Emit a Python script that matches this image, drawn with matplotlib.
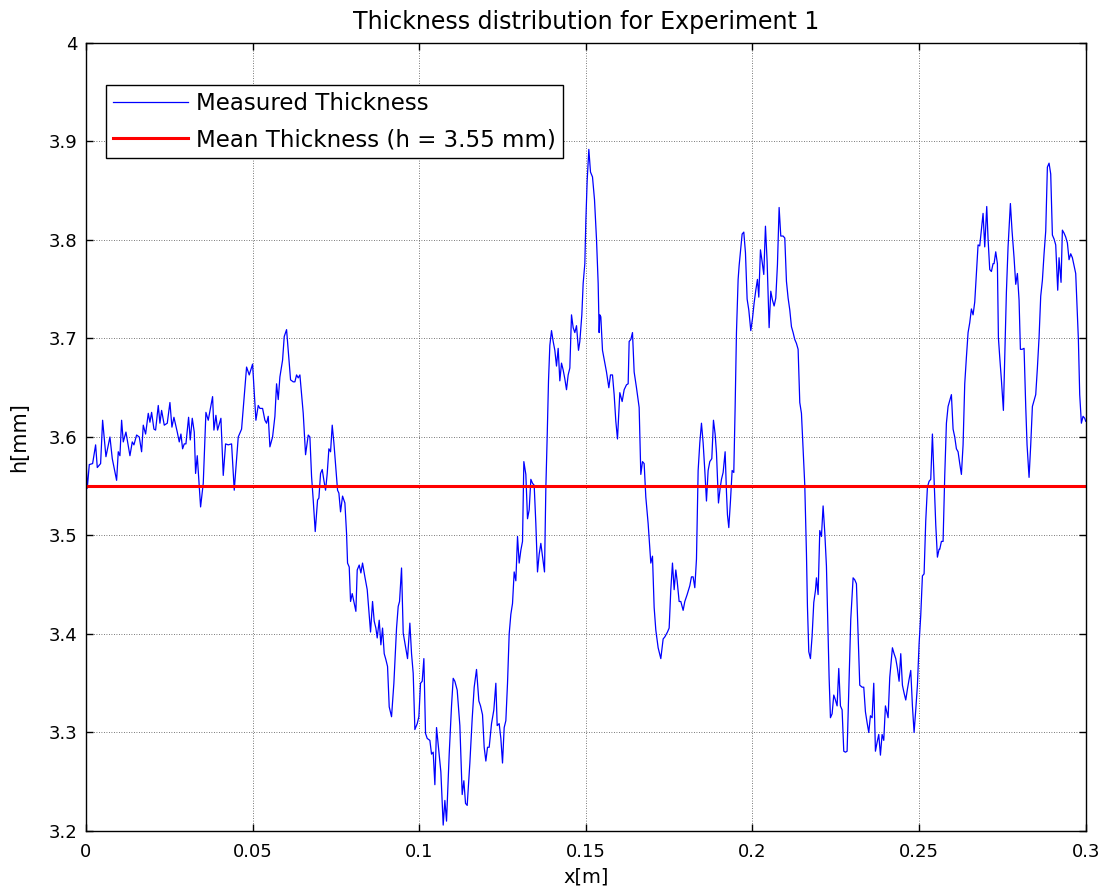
import matplotlib
matplotlib.use("Agg")
import matplotlib.pyplot as plt

# Measured thickness profile
x_m = [
    0.0000, 0.0004, 0.0010, 0.0020, 0.0029, 0.0034, 0.0044, 0.0050, 0.0060, 0.0072,
    0.0079, 0.0092, 0.0097, 0.0102, 0.0107, 0.0112, 0.0120, 0.0132, 0.0139, 0.0144,
    0.0152, 0.0160, 0.0167, 0.0172, 0.0179, 0.0187, 0.0192, 0.0197, 0.0204, 0.0209,
    0.0217, 0.0222, 0.0227, 0.0235, 0.0244, 0.0252, 0.0258, 0.0264, 0.0274, 0.0280,
    0.0285, 0.0290, 0.0295, 0.0300, 0.0308, 0.0313, 0.0319, 0.0325, 0.0329, 0.0334,
    0.0344, 0.0352, 0.0360, 0.0367, 0.0374, 0.0380, 0.0384, 0.0390, 0.0395, 0.0405,
    0.0412, 0.0419, 0.0427, 0.0437, 0.0445, 0.0457, 0.0467, 0.0482, 0.0490, 0.0500,
    0.0510, 0.0517,
    0.0522, 0.0530, 0.0537, 0.0542, 0.0547, 0.0552, 0.0560, 0.0567, 0.0572, 0.0577,
    0.0582, 0.0590, 0.0595, 0.0602, 0.0607, 0.0614, 0.0622, 0.0627, 0.0632, 0.0637,
    0.0642, 0.0647, 0.0652, 0.0659, 0.0667, 0.0672, 0.0677, 0.0682, 0.0688, 0.0695,
    0.0699, 0.0704, 0.0709, 0.0714, 0.0719, 0.0724, 0.0729, 0.0734, 0.0739, 0.0744,
    0.0750, 0.0755, 0.0759, 0.0764, 0.0770, 0.0777, 0.0782, 0.0785, 0.0790, 0.0794,
    0.0799, 0.0805, 0.0810, 0.0814, 0.0820, 0.0825, 0.0830, 0.0837, 0.0844, 0.0849,
    0.0854, 0.0860, 0.0865, 0.0870, 0.0874, 0.0880, 0.0885, 0.0890, 0.0895, 0.0900,
    0.0905, 0.0910, 0.0917, 0.0924, 0.0932, 0.0937, 0.0941, 0.0947, 0.0952, 0.0959,
    0.0965, 0.0972, 0.0977, 0.0982, 0.0987, 0.0994, 0.0999, 0.1004, 0.1009, 0.1014,
    0.1019, 0.1024, 0.1032,
    0.1037, 0.1042, 0.1047, 0.1052, 0.1060, 0.1065, 0.1072, 0.1077, 0.1082, 0.1090,
    0.1097, 0.1102, 0.1107, 0.1114, 0.1122, 0.1129, 0.1134, 0.1139, 0.1144, 0.1152,
    0.1159, 0.1165, 0.1172, 0.1179, 0.1184, 0.1190, 0.1195, 0.1200, 0.1205, 0.1210,
    0.1217, 0.1224, 0.1230, 0.1234, 0.1240, 0.1245, 0.1250, 0.1255, 0.1260, 0.1265,
    0.1270, 0.1275, 0.1280, 0.1285, 0.1290, 0.1295, 0.1300, 0.1305, 0.1310, 0.1314,
    0.1320, 0.1325, 0.1330, 0.1335, 0.1340, 0.1345, 0.1350, 0.1355, 0.1360, 0.1365,
    0.1370, 0.1376, 0.1380, 0.1384, 0.1388, 0.1392, 0.1397, 0.1402, 0.1407, 0.1412,
    0.1417, 0.1422, 0.1427, 0.1432, 0.1437, 0.1442, 0.1447, 0.1452, 0.1457, 0.1462,
    0.1467, 0.1472, 0.1478, 0.1482, 0.1488, 0.1492, 0.1497, 0.1500, 0.1504, 0.1509,
    0.1514, 0.1520, 0.1526, 0.1532, 0.1537, 0.1540,
    0.1542, 0.1545, 0.1550, 0.1555, 0.1562, 0.1569, 0.1574, 0.1580, 0.1585, 0.1590,
    0.1595, 0.1602, 0.1609, 0.1615, 0.1622, 0.1627, 0.1630, 0.1635, 0.1640, 0.1645,
    0.1652, 0.1660, 0.1665, 0.1670, 0.1675, 0.1680, 0.1687, 0.1695, 0.1700, 0.1705,
    0.1710, 0.1717, 0.1725, 0.1732, 0.1737, 0.1745, 0.1750, 0.1755, 0.1760, 0.1765,
    0.1770, 0.1774, 0.1780, 0.1785, 0.1792, 0.1797, 0.1804, 0.1812, 0.1817, 0.1822,
    0.1827, 0.1832, 0.1837, 0.1842, 0.1847, 0.1852, 0.1857, 0.1862, 0.1867, 0.1872,
    0.1878, 0.1883, 0.1888, 0.1892, 0.1898, 0.1903, 0.1907, 0.1912, 0.1918, 0.1922,
    0.1925, 0.1929, 0.1934, 0.1939, 0.1944, 0.1948, 0.1952, 0.1957, 0.1960, 0.1965,
    0.1969, 0.1974, 0.1979, 0.1984, 0.1989, 0.1995, 0.2000, 0.2005, 0.2010, 0.2015,
    0.2019, 0.2024, 0.2029, 0.2034, 0.2039, 0.2044, 0.2050,
    0.2055, 0.2060, 0.2065, 0.2070, 0.2075, 0.2080, 0.2085, 0.2092, 0.2097, 0.2102,
    0.2107, 0.2112, 0.2117, 0.2122, 0.2127, 0.2132, 0.2137, 0.2142, 0.2147, 0.2152,
    0.2157, 0.2162, 0.2165, 0.2169, 0.2174, 0.2179, 0.2184, 0.2189, 0.2192, 0.2197,
    0.2202, 0.2207, 0.2212, 0.2217, 0.2222, 0.2227, 0.2230, 0.2234, 0.2239, 0.2244,
    0.2249, 0.2254, 0.2259, 0.2264, 0.2269, 0.2274, 0.2279, 0.2284, 0.2290, 0.2295,
    0.2302, 0.2307, 0.2312, 0.2317, 0.2322, 0.2329, 0.2334, 0.2339, 0.2344, 0.2349,
    0.2354, 0.2359, 0.2364, 0.2369, 0.2374, 0.2379, 0.2384, 0.2389, 0.2394, 0.2399,
    0.2407, 0.2412, 0.2420, 0.2425, 0.2430, 0.2435, 0.2440, 0.2445, 0.2450, 0.2455,
    0.2460, 0.2465, 0.2470, 0.2475, 0.2480, 0.2485, 0.2490, 0.2495, 0.2500, 0.2505,
    0.2510, 0.2515, 0.2520, 0.2525, 0.2530, 0.2535, 0.2540, 0.2545, 0.2550, 0.2555,
    0.2560,
    0.2562, 0.2567, 0.2572, 0.2577, 0.2582, 0.2587, 0.2592, 0.2597, 0.2602, 0.2607,
    0.2612, 0.2617, 0.2622, 0.2627, 0.2632, 0.2637, 0.2642, 0.2647, 0.2652, 0.2657,
    0.2662, 0.2667, 0.2672, 0.2677, 0.2682, 0.2687, 0.2692, 0.2697, 0.2703, 0.2707,
    0.2712, 0.2717, 0.2722, 0.2725, 0.2730, 0.2735, 0.2738, 0.2742, 0.2747, 0.2753,
    0.2758, 0.2762, 0.2767, 0.2774, 0.2779, 0.2785, 0.2790, 0.2795, 0.2800, 0.2804,
    0.2809, 0.2815, 0.2820, 0.2824, 0.2830, 0.2835, 0.2840, 0.2845, 0.2850, 0.2855,
    0.2860, 0.2865, 0.2870, 0.2875, 0.2880, 0.2885, 0.2890, 0.2895, 0.2900, 0.2905,
    0.2910, 0.2916, 0.2920, 0.2926, 0.2930, 0.2935, 0.2940, 0.2945, 0.2950, 0.2955,
    0.2960, 0.2965, 0.2970, 0.2974, 0.2978, 0.2982, 0.2987, 0.2992, 0.2997, 0.3000,
]

h_mm = [
    3.578, 3.548, 3.572, 3.573, 3.592, 3.569, 3.573, 3.617, 3.580, 3.600,
    3.578, 3.556, 3.585, 3.581, 3.617, 3.595, 3.605, 3.581, 3.595, 3.592,
    3.602, 3.600, 3.585, 3.612, 3.603, 3.624, 3.615, 3.625, 3.608, 3.607,
    3.632, 3.614, 3.627, 3.612, 3.614, 3.635, 3.610, 3.620, 3.605, 3.595,
    3.603, 3.588, 3.593, 3.593, 3.620, 3.597, 3.619, 3.605, 3.563, 3.581,
    3.529, 3.553, 3.625, 3.617, 3.630, 3.641, 3.607, 3.622, 3.607, 3.619,
    3.561, 3.593, 3.592, 3.593, 3.546, 3.600, 3.608, 3.671, 3.663, 3.674,
    3.617, 3.632,
    3.629, 3.629, 3.617, 3.614, 3.621, 3.590, 3.600, 3.621, 3.654, 3.638,
    3.661, 3.678, 3.702, 3.709, 3.688, 3.658, 3.656, 3.656, 3.663, 3.660,
    3.663, 3.644, 3.624, 3.582, 3.602, 3.600, 3.560, 3.536, 3.504, 3.536,
    3.538, 3.563, 3.567, 3.556, 3.546, 3.563, 3.588, 3.585, 3.612, 3.594,
    3.568, 3.546, 3.543, 3.524, 3.540, 3.533, 3.502, 3.472, 3.468, 3.433,
    3.441, 3.431, 3.423, 3.465, 3.470, 3.462, 3.472, 3.458, 3.445, 3.424,
    3.402, 3.433, 3.413, 3.406, 3.396, 3.414, 3.389, 3.406, 3.380, 3.374,
    3.367, 3.326, 3.316, 3.350, 3.406, 3.428, 3.433, 3.467, 3.401, 3.387,
    3.375, 3.411, 3.380, 3.360, 3.303, 3.309, 3.316, 3.350, 3.352, 3.375,
    3.299, 3.294, 3.292,
    3.278, 3.280, 3.247, 3.305, 3.278, 3.260, 3.206, 3.231, 3.210, 3.278,
    3.327, 3.355, 3.352, 3.343, 3.307, 3.237, 3.251, 3.228, 3.226, 3.269,
    3.314, 3.346, 3.364, 3.332, 3.327, 3.318, 3.285, 3.271, 3.285, 3.285,
    3.309, 3.323, 3.350, 3.307, 3.309, 3.294, 3.269, 3.305, 3.312, 3.350,
    3.400, 3.420, 3.431, 3.463, 3.454, 3.499, 3.472, 3.485, 3.494, 3.575,
    3.562, 3.517, 3.526, 3.557, 3.553, 3.551, 3.512, 3.463, 3.481, 3.492,
    3.479, 3.463, 3.548, 3.600, 3.657, 3.693, 3.708, 3.697, 3.688, 3.672,
    3.690, 3.657, 3.675, 3.668, 3.659, 3.648, 3.663, 3.670, 3.724, 3.711,
    3.706, 3.713, 3.688, 3.697, 3.724, 3.756, 3.776, 3.819, 3.860, 3.892,
    3.869, 3.864, 3.841, 3.801, 3.756, 3.706,
    3.724, 3.722, 3.688, 3.679, 3.666, 3.650, 3.663, 3.663, 3.643, 3.616,
    3.598, 3.645, 3.636, 3.648, 3.653, 3.654, 3.697, 3.699, 3.706, 3.666,
    3.650, 3.630, 3.562, 3.575, 3.573, 3.539, 3.512, 3.472, 3.479, 3.427,
    3.404, 3.386, 3.375, 3.395, 3.397, 3.402, 3.406, 3.445, 3.472, 3.445,
    3.465, 3.454, 3.433, 3.433, 3.424, 3.433, 3.440, 3.449, 3.458, 3.458,
    3.447, 3.476, 3.566, 3.594, 3.614, 3.594, 3.566, 3.535, 3.566, 3.575,
    3.578, 3.617, 3.603, 3.584, 3.533, 3.548, 3.557, 3.564, 3.585, 3.544,
    3.521, 3.508, 3.535, 3.566, 3.564, 3.630, 3.706, 3.760, 3.774, 3.792,
    3.806, 3.808, 3.787, 3.740, 3.729, 3.708, 3.720, 3.736, 3.749, 3.760,
    3.742, 3.790, 3.778, 3.765, 3.814, 3.778, 3.711,
    3.748, 3.739, 3.733, 3.741, 3.775, 3.833, 3.804, 3.804, 3.802, 3.758,
    3.741, 3.729, 3.712, 3.706, 3.699, 3.695, 3.689, 3.635, 3.624, 3.587,
    3.551, 3.482, 3.428, 3.382, 3.375, 3.398, 3.432, 3.444, 3.457, 3.440,
    3.505, 3.499, 3.530, 3.503, 3.469, 3.398, 3.356, 3.315, 3.319, 3.338,
    3.333, 3.327, 3.365, 3.327, 3.323, 3.281, 3.280, 3.281, 3.356, 3.415,
    3.457, 3.455, 3.451, 3.398, 3.348, 3.346, 3.346, 3.321, 3.310, 3.300,
    3.317, 3.315, 3.350, 3.281, 3.290, 3.298, 3.277, 3.298, 3.292, 3.327,
    3.315, 3.356, 3.386, 3.380, 3.375, 3.365, 3.352, 3.380, 3.348, 3.340,
    3.333, 3.344, 3.354, 3.363, 3.327, 3.300, 3.323, 3.348, 3.390, 3.419,
    3.459, 3.461, 3.515, 3.549, 3.555, 3.557, 3.603, 3.557, 3.511, 3.478,
    3.486,
    3.486, 3.494, 3.494, 3.561, 3.614, 3.631, 3.637, 3.643, 3.608, 3.600,
    3.588, 3.585, 3.573, 3.562, 3.592, 3.654, 3.681, 3.706, 3.716, 3.730,
    3.724, 3.737, 3.766, 3.795, 3.794, 3.811, 3.827, 3.793, 3.834, 3.801,
    3.770, 3.768, 3.776, 3.776, 3.788, 3.776, 3.701, 3.681, 3.658, 3.627,
    3.693, 3.747, 3.793, 3.837, 3.809, 3.782, 3.755, 3.766, 3.739, 3.689,
    3.689, 3.690, 3.631, 3.592, 3.559, 3.592, 3.631, 3.637, 3.643, 3.670,
    3.701, 3.743, 3.759, 3.786, 3.809, 3.874, 3.878, 3.867, 3.805, 3.801,
    3.795, 3.749, 3.782, 3.757, 3.810, 3.807, 3.803, 3.797, 3.780, 3.786,
    3.782, 3.774, 3.766, 3.732, 3.699, 3.643, 3.614, 3.621, 3.619, 3.616,
]

mean_h = 3.55  # mm
x_ticks = [0, 0.05, 0.1, 0.15, 0.2, 0.25, 0.3]
x_tick_labels = ["0", "0.05", "0.1", "0.15", "0.2", "0.25", "0.3"]
y_ticks = [3.2, 3.3, 3.4, 3.5, 3.6, 3.7, 3.8, 3.9, 4.0]
y_tick_labels = ["3.2", "3.3", "3.4", "3.5", "3.6", "3.7", "3.8", "3.9", "4"]

plt.rcParams["font.family"] = "DejaVu Sans"

fig = plt.figure(figsize=(11.09, 8.92), dpi=100)
ax = fig.add_axes([0.0775, 0.0684, 0.9015, 0.8834])

ax.plot(x_m, h_mm, color=(0, 0, 1), lw=0.9, label="Measured Thickness")
ax.plot([x_ticks[0], x_ticks[-1]], [mean_h, mean_h], color=(1, 0, 0), lw=2.2,
        label="Mean Thickness (h = %.2f mm)" % mean_h)

ax.set_xlim(x_ticks[0], x_ticks[-1])
ax.set_ylim(y_ticks[0], y_ticks[-1])
ax.set_xticks(x_ticks)
ax.set_xticklabels(x_tick_labels)
ax.set_yticks(y_ticks)
ax.set_yticklabels(y_tick_labels)

ax.grid(True, linestyle=(0, (1, 2)), color="0.3", lw=0.6)
ax.tick_params(direction="in", top=True, right=True, length=5, width=1,
               labelsize=13, colors="k")
ax.tick_params(axis="x", pad=9)
ax.tick_params(axis="y", pad=6)
for s in ax.spines.values():
    s.set_linewidth(1)
    s.set_color("k")

ax.set_title("Thickness distribution for Experiment 1", fontsize=17, pad=10)
ax.set_xlabel("x[m]", fontsize=14, labelpad=4)
ax.set_ylabel("h[mm]", fontsize=15, labelpad=14)

leg = ax.legend(loc="upper left", bbox_to_anchor=(0.02, 0.947), fontsize=16.5,
                fancybox=False, framealpha=1, edgecolor="k", borderpad=0.3,
                handlelength=3.3, handletextpad=0.35, labelspacing=0.6,
                borderaxespad=0)
leg.get_frame().set_linewidth(1)

fig.savefig("out.png", dpi=100)
